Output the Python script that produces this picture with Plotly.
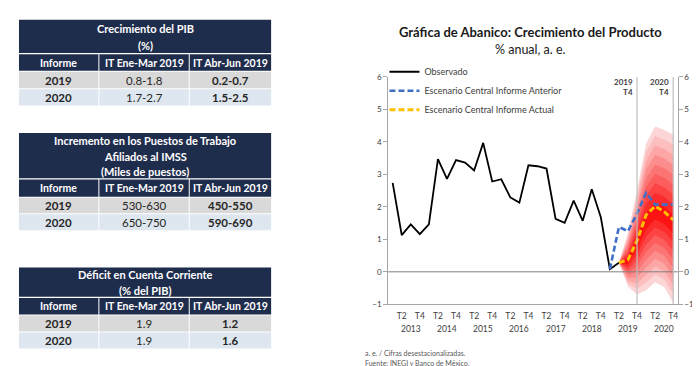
import plotly.graph_objects as go

# ---------------- data ----------------
years = ["2013", "2014", "2015", "2016", "2017", "2018", "2019", "2020"]
quarter_labels = ["T1", "T2", "T3", "T4"]
n_quarters = 32  # 2013 T1 .. 2020 T4
idx = list(range(n_quarters))

observado = [2.74, 1.13, 1.46, 1.16, 1.46, 3.47, 2.86, 3.44, 3.36, 3.12, 3.97, 2.78,
             2.85, 2.29, 2.13, 3.28, 3.25, 3.18, 1.63, 1.51, 2.19, 1.57, 2.54, 1.68,
             0.08, 0.28]
informe_anterior = [0.08, 1.38, 1.25, 1.80, 2.43, 2.07, 2.07, 2.07]   # from 2019 T1
informe_actual = [0.28, 0.37, 0.95, 1.75, 2.02, 1.85, 1.60]           # from 2019 T2

fan_upper = [0.28, 1.20, 2.50, 3.95, 4.47, 4.37, 4.22]                 # from 2019 T2
fan_mid = [0.28, 0.32, 0.88, 1.55, 1.85, 1.72, 1.45]
fan_lower = [0.28, -0.45, -0.70, -0.57, -0.32, -0.47, -0.96]
fan_levels = 9

col_headers = ["Informe", "IT Ene-Mar 2019", "IT Abr-Jun 2019"]
t1_title = ["Crecimiento del PIB", "(%)"]
t1_rows = [["2019", "0.8-1.8", "0.2-0.7"], ["2020", "1.7-2.7", "1.5-2.5"]]
t2_title = ["Incremento en los Puestos de Trabajo", "Afiliados al IMSS", "(Miles de puestos)"]
t2_rows = [["2019", "530-630", "450-550"], ["2020", "650-750", "590-690"]]
t3_title = ["Déficit en Cuenta Corriente", "(% del PIB)"]
t3_rows = [["2019", "1.9", "1.2"], ["2020", "1.9", "1.6"]]

# ---------------- helpers ----------------
W, H = 700, 366
FONT = "Lato"


def px(x):
    return x / W


def py(y):
    return 1 - y / H


fig = go.Figure()

# ---------------- fan ----------------
fan_x = idx[25:32]
for k in range(fan_levels, 0, -1):
    f = k / fan_levels
    up = [m + (u - m) * f for m, u in zip(fan_mid, fan_upper)]
    lo = [m - (m - l) * f for m, l in zip(fan_mid, fan_lower)]
    t = (k - 1) / (fan_levels - 1)
    g = round(20 + (214 - 20) * t)
    color = f"rgb(252,{g},{g})"
    fig.add_trace(go.Scatter(
        x=fan_x + fan_x[::-1], y=up + lo[::-1], fill="toself", fillcolor=color,
        mode="none", line=dict(width=0), showlegend=False, hoverinfo="skip"))

fig.add_trace(go.Scatter(x=idx[:len(observado)], y=observado, mode="lines",
                         name="Observado", line=dict(color="black", width=1.8)))
fig.add_trace(go.Scatter(x=idx[24:32], y=informe_anterior, mode="lines", yaxis="y2",
                         name="Escenario Central Informe Anterior",
                         line=dict(color="#3F6FC6", width=2.6, dash="6px,3px")))
fig.add_trace(go.Scatter(x=idx[25:32], y=informe_actual, mode="lines", yaxis="y2",
                         name="Escenario Central Informe Actual",
                         line=dict(color="#FFC000", width=3, dash="6px,3px")))

x_dom = [px(380.7), px(670.7)]
y_dom = [py(299.5), py(65.7)]

axis_common = dict(range=[-1, 6], domain=y_dom, showgrid=False, zeroline=False,
                   showline=True, linecolor="#A6A6A6", linewidth=1, ticks="outside",
                   ticklen=4, tickcolor="#A6A6A6", tickvals=list(range(-1, 7)),
                   tickfont=dict(family=FONT, size=8, color="#404040"))

fig.update_layout(
    width=W, height=H, margin=dict(l=0, r=0, t=0, b=0),
    paper_bgcolor="white", plot_bgcolor="white",
    xaxis=dict(range=[-0.5, 31.5], domain=x_dom, showgrid=False, zeroline=False,
               showline=True, linecolor="#A6A6A6", linewidth=1, ticks="",
               tickvals=[i for i in idx if i % 4 in (1, 3)],
               ticktext=[quarter_labels[i % 4] for i in idx if i % 4 in (1, 3)],
               tickfont=dict(family=FONT, size=8.5, color="#404040"), ticklabelstandoff=3),
    yaxis=dict(side="left", **axis_common),
    yaxis2=dict(side="right", overlaying="y", anchor="x", **axis_common),
    showlegend=True,
    legend=dict(x=px(377), y=py(45.5), xanchor="left", yanchor="top",
                bgcolor="rgba(0,0,0,0)", font=dict(family=FONT, size=9, color="#404040"),
                itemwidth=30, tracegroupgap=0),
    font=dict(family=FONT),
)

shapes = []
annotations = []

# zero line
shapes.append(dict(type="line", xref="paper", yref="y", x0=x_dom[0], x1=x_dom[1], y0=0, y1=0,
                   line=dict(color="#7F7F7F", width=1), layer="above"))
# reference vertical lines (2019 T4, 2020 T4)
for yi, q in (("2019", 27), ("2020", 31)):
    shapes.append(dict(type="line", xref="x", yref="paper", x0=q, x1=q, y0=y_dom[0], y1=y_dom[1],
                       line=dict(color="#BFBFBF", width=1.2), layer="above"))
    annotations.append(dict(text=f"<b>{yi}<br>T4</b>", x=q, xref="x", xanchor="right", xshift=-2,
                            y=py(64), yref="paper", yanchor="top", align="right", showarrow=False,
                            font=dict(family=FONT, size=8, color="#404040")))

# year labels under the axis
for i, yr in enumerate(years):
    annotations.append(dict(text=yr, x=i * 4 + 2, xref="x", xanchor="center", y=py(324.5),
                            yref="paper", yanchor="middle", showarrow=False,
                            font=dict(family=FONT, size=8.5, color="#404040")))

# chart titles
annotations.append(dict(text="<b>Gráfica de Abanico: Crecimiento del Producto</b>", x=px(523),
                        y=py(19.5), xref="paper", yref="paper", xanchor="center", yanchor="middle",
                        showarrow=False, font=dict(family=FONT, size=13, color="#1A1A1A")))
annotations.append(dict(text="% anual, a. e.", x=px(523), y=py(38), xref="paper", yref="paper",
                        xanchor="center", yanchor="middle", showarrow=False,
                        font=dict(family=FONT, size=12.5, color="#1A1A1A")))
# footnotes
for txt, yy in (("a. e. / Cifras desestacionalizadas.", 349.5), ("Fuente: INEGI y Banco de México.", 359.5)):
    annotations.append(dict(text=txt, x=px(356), y=py(yy), xref="paper", yref="paper",
                            xanchor="left", yanchor="middle", showarrow=False,
                            font=dict(family=FONT, size=7, color="#595959")))

# ---------------- tables ----------------
NAVY = "#1F2D4D"
ROW_COLORS = ["#D9D9D9", "#DEE6F0"]
COLS = [(11, 90.5), (91.5, 181), (182, 263.5)]


def rect(x0, y0, x1, y1, color):
    shapes.append(dict(type="rect", xref="paper", yref="paper", x0=px(x0), x1=px(x1),
                       y0=py(y1), y1=py(y0), fillcolor=color, line=dict(width=0), layer="below"))


def text(t, x, y, size, color, bold=False):
    annotations.append(dict(text=f"<b>{t}</b>" if bold else t, x=px(x), y=py(y), xref="paper",
                            yref="paper", xanchor="center", yanchor="middle", showarrow=False,
                            font=dict(family=FONT, size=size, color=color)))


def table(title, rows, top, title_bottom, title_ys, hdr, row_bounds):
    rect(COLS[0][0], top, COLS[2][1], title_bottom, NAVY)
    for t, yy in zip(title, title_ys):
        text(t, (COLS[0][0] + COLS[2][1]) / 2, yy, 11, "white", True)
    for (c0, c1), h in zip(COLS, col_headers):
        rect(c0, hdr[0], c1, hdr[1], NAVY)
        text(h, (c0 + c1) / 2, (hdr[0] + hdr[1]) / 2, 10.5, "white", True)
    for r, (r0, r1), rc in zip(rows, row_bounds, ROW_COLORS):
        for j, ((c0, c1), v) in enumerate(zip(COLS, r)):
            rect(c0, r0, c1, r1, rc)
            text(v, (c0 + c1) / 2, (r0 + r1) / 2, 11.5, "#262626", j != 1)


table(t1_title, t1_rows, 7, 41, [16, 33], (42.3, 59.5), [(60.5, 77.3), (78.3, 95)])
table(t2_title, t2_rows, 123.3, 170, [131.5, 147.5, 163.3], (171.3, 189), [(190, 206), (207, 223.3)])
table(t3_title, t3_rows, 261.7, 291.7, [268.5, 285], (293, 310), [(311, 327.5), (328.5, 345)])

fig.update_layout(shapes=shapes, annotations=annotations)
fig.write_html("out.html")
